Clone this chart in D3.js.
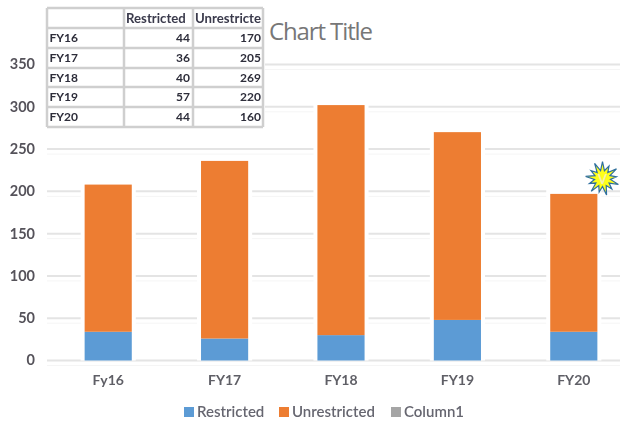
<!DOCTYPE html>
<html><head><meta charset="utf-8">
<script src="https://cdn.jsdelivr.net/npm/d3@7/dist/d3.min.js"></script>
<style>
html,body{margin:0;padding:0;background:#fff;overflow:hidden}
text{font-family:Lato,"Open Sans",sans-serif}
</style></head><body><svg id="c" width="620" height="423"></svg>
<script>
const categories = ["Fy16","FY17","FY18","FY19","FY20"];
const restricted = [34,26,30,48,34];
const unrestricted = [174,210,272,222,163];
const yTicks = [0,50,100,150,200,250,300,350];
const legendLabels = ["Restricted","Unrestricted","Column1"];
const legendColors = ["#5b9bd5","#ed7d31","#a5a5a5"];
const tableHeader = ["","Restricted","Unrestricte"];
const tableRows = ["FY16","FY17","FY18","FY19","FY20"];
const tableRestricted = ["44","36","40","57","44"];
const tableUnrestricted = ["170","205","269","220","160"];

const svg = d3.select("#c");
const defs = svg.append("defs");
defs.append("filter").attr("id","soft").append("feGaussianBlur").attr("stdDeviation",0.6);
defs.append("filter").attr("id","soft2").append("feGaussianBlur").attr("stdDeviation",0.35);

const x = d3.scaleBand().domain(categories).range([50,632]).paddingInner(0.595).paddingOuter(0.2975);
const y = d3.scaleLinear().domain([0,350]).range([360.5,64.5]);

// gridlines
const g = svg.append("g").attr("filter","url(#soft)");
g.selectAll("line.a").data(yTicks).join("line").attr("class","a")
  .attr("x1",47).attr("x2",620).attr("y1",d=>y(d)).attr("y2",d=>y(d))
  .attr("stroke","#e4e4e4").attr("stroke-width",2);
g.selectAll("line.b").data(yTicks).join("line").attr("class","b")
  .attr("x1",47).attr("x2",620).attr("y1",d=>y(d)+5).attr("y2",d=>y(d)+5)
  .attr("stroke","#f5f5f5").attr("stroke-width",1);

// halo that interrupts the gridlines beside each bar
svg.append("g").selectAll("rect").data(categories).join("rect")
  .attr("x",d=>x(d)-4).attr("width",x.bandwidth()+8)
  .attr("y",(d,i)=>y(restricted[i]+unrestricted[i])-4).attr("height",(d,i)=>y(0)-y(restricted[i]+unrestricted[i])+4)
  .attr("fill","#fff");

// y axis
svg.append("g").attr("filter","url(#soft2)").selectAll("text").data(yTicks).join("text")
  .attr("x",35).attr("y",d=>y(d)).attr("dy","0.34em").attr("text-anchor","end")
  .attr("font-size",14.5).attr("font-weight",700).attr("fill","#55525a").text(d=>d);

// bars
const bars = svg.append("g").attr("filter","url(#soft2)");
bars.selectAll("rect.r").data(categories).join("rect").attr("class","r")
  .attr("x",d=>x(d)).attr("width",x.bandwidth())
  .attr("y",(d,i)=>y(restricted[i])).attr("height",(d,i)=>y(0)-y(restricted[i]))
  .attr("fill",legendColors[0]);
bars.selectAll("rect.u").data(categories).join("rect").attr("class","u")
  .attr("x",d=>x(d)).attr("width",x.bandwidth())
  .attr("y",(d,i)=>y(restricted[i]+unrestricted[i])).attr("height",(d,i)=>y(0)-y(unrestricted[i]))
  .attr("fill",legendColors[1]);

// x labels
svg.append("g").attr("filter","url(#soft2)").selectAll("text").data(categories).join("text")
  .attr("x",d=>x(d)+x.bandwidth()/2).attr("y",380.5).attr("dy","0.34em").attr("text-anchor","middle")
  .attr("font-size",14).attr("font-weight",700).attr("fill","#5f5f66").text(d=>d);

// title
svg.append("text").attr("x",269).attr("y",40).attr("font-size",24).attr("fill","#777")
  .style("font-family","'Open Sans',sans-serif").attr("textLength",104).text("Chart Title");

// legend
const legendX = [184,279,391];
const lg = svg.append("g").attr("filter","url(#soft2)").selectAll("g").data(legendLabels).join("g")
  .attr("transform",(d,i)=>`translate(${legendX[i]},407)`);
lg.append("rect").attr("width",10).attr("height",10).attr("fill",(d,i)=>legendColors[i]);
lg.append("text").attr("x",13).attr("y",5).attr("dy","0.34em").attr("font-size",15).attr("font-weight",600)
  .attr("fill","#666670").text(d=>d);

// embedded table
const colEdges = [47,124,193,263];
const rowEdges = [8,28,48,68,87,107,127];
svg.append("rect").attr("x",45).attr("y",6).attr("width",220).attr("height",123).attr("fill","#fff");
const t = svg.append("g").attr("filter","url(#soft2)");
t.selectAll("line.v").data(colEdges).join("line").attr("class","v")
  .attr("x1",d=>d).attr("x2",d=>d).attr("y1",rowEdges[0]).attr("y2",rowEdges[6])
  .attr("stroke","#cfcfcf").attr("stroke-width",2.5);
t.selectAll("line.h").data(rowEdges).join("line").attr("class","h")
  .attr("y1",d=>d).attr("y2",d=>d).attr("x1",colEdges[0]).attr("x2",colEdges[3])
  .attr("stroke","#cfcfcf").attr("stroke-width",2.5);
const cell = {"font-size":12,"font-weight":700,"fill":"#2d2d3a"};
const setCell = s => Object.entries(cell).forEach(([k,v])=>s.attr(k,v));
t.append("g").selectAll("text").data(tableHeader).join("text")
  .attr("x",(d,i)=>i===1?126:(i===2?195:50)).attr("y",18.5).attr("dy","0.34em").call(setCell).attr("font-size",13.2).attr("fill","#3a3a4c").text(d=>d);
const rowMid = i => (rowEdges[i+1]+rowEdges[i+2])/2;
t.append("g").selectAll("text").data(tableRows).join("text")
  .attr("x",49.5).attr("y",(d,i)=>rowMid(i)).attr("dy","0.34em").call(setCell).text(d=>d);
t.append("g").selectAll("text").data(tableRestricted).join("text")
  .attr("x",190).attr("y",(d,i)=>rowMid(i)).attr("dy","0.34em").attr("text-anchor","end").call(setCell).text(d=>d);
t.append("g").selectAll("text").data(tableUnrestricted).join("text")
  .attr("x",261).attr("y",(d,i)=>rowMid(i)).attr("dy","0.34em").attr("text-anchor","end").call(setCell).text(d=>d);

// starburst
const spikes = d3.range(26);
const star = d3.lineRadial().angle(d=>d/26*2*Math.PI).radius(d=>d%2?8:(d%4?14:17)).curve(d3.curveLinearClosed);
const s = svg.append("g").attr("transform","translate(602.5,178.5)");
s.append("path").attr("d",star(spikes)).attr("fill","#ffff19").attr("stroke","#2f6f9f").attr("stroke-width",1.2).attr("stroke-linejoin","miter");
s.append("text").attr("text-anchor","middle").attr("y",5).attr("font-size",13).attr("font-weight",700).attr("fill","#f4f0b0").text("V");
</script></body></html>
